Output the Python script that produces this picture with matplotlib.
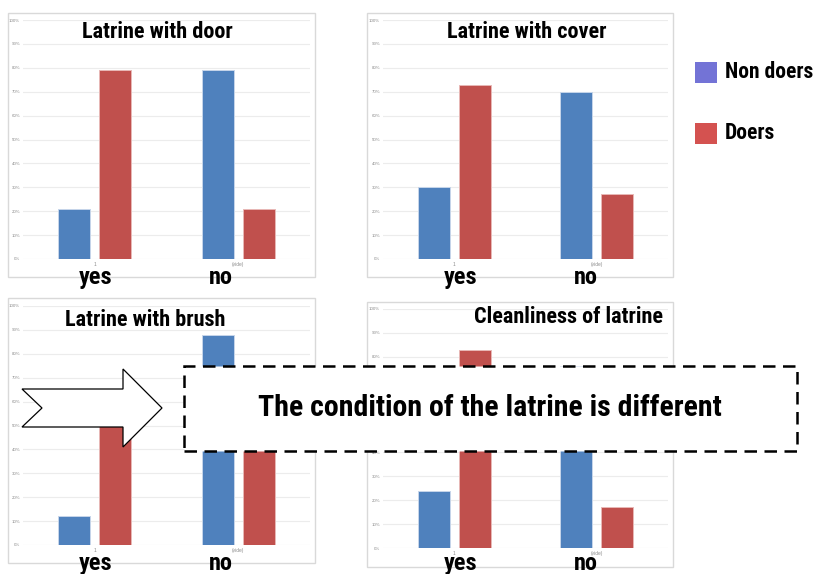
import matplotlib
matplotlib.use("Agg")
import matplotlib.pyplot as plt
import numpy as np
from matplotlib import font_manager
from matplotlib.patches import Rectangle, Polygon

# pick a narrow face that ships a bold weight, if one is installed
bold_faces = {f.name for f in font_manager.fontManager.ttflist
              if isinstance(f.weight, int) and f.weight >= 700 or f.weight == 'bold'}
narrow = [n for n in ['Liberation Sans Narrow', 'Arial Narrow', 'Roboto Condensed',
                      'Archivo Narrow', 'IBM Plex Sans Condensed', 'PT Sans Narrow',
                      'Open Sans Condensed'] if n in bold_faces]
plt.rcParams['font.family'] = narrow[:1] + ['Liberation Sans', 'DejaVu Sans']

W, H = 819, 574

# survey results, share of households (%)
titles = ['Latrine with door', 'Latrine with cover', 'Latrine with brush', 'Cleanliness of latrine']
categories = ['1', '(vide)']
answers = ['yes', 'no']
non_doers = [[21, 79], [30, 70], [12, 88], [24, 76]]
doers = [[79, 21], [73, 27], [57, 43], [83, 17]]
series_names = ['Non doers', 'Doers']

BLUE, RED = '#4f81bd', '#c0504d'

# panel layout in pixels (left, top, right, bottom)
frames = [(8, 13, 315, 277), (367, 13, 673, 277), (8, 298, 315, 563), (367, 302, 673, 567)]
plots = [(23, 20, 310, 259), (383, 20, 668, 259), (23, 306, 310, 545), (383, 309, 668, 548)]
title_pos = [(157, 38), (527, 38), (145, 326), (568, 323)]
answer_x = [(96, 221), (461, 586), (96, 221), (461, 586)]
answer_base = [284, 284, 570, 570]


def fx(x):
    return x / W


def fy(y):
    return 1 - y / H


fig = plt.figure(figsize=(W / 100, H / 100), dpi=100)

for i in range(4):
    l, t, r, b = plots[i]
    ax = fig.add_axes([fx(l), fy(b), (r - l) / W, (b - t) / H])
    ax.set_xlim(0, 2)
    ax.set_ylim(0, 1)
    x = np.arange(2) + 0.5
    ax.bar(x - 0.143, np.array(non_doers[i]) / 100, 0.223, color=BLUE,
           edgecolor='#c6d5ea', linewidth=0.7, zorder=3)
    ax.bar(x + 0.143, np.array(doers[i]) / 100, 0.223, color=RED,
           edgecolor='#e8b8b6', linewidth=0.7, zorder=3)
    ax.set_yticks(np.linspace(0, 1, 11))
    ax.set_yticklabels(['%d%%' % v for v in range(0, 101, 10)],
                       fontsize=3.2, color='#8c8c8c', family='Liberation Sans')
    ax.set_xticks(x)
    ax.set_xticklabels(categories, fontsize=3.5, color='#8c8c8c', family='Liberation Sans')
    ax.tick_params(length=0, pad=2)
    ax.grid(axis='y', color='#ececec', linewidth=0.8, zorder=0)
    for s in ax.spines.values():
        s.set_visible(False)
    ax.set_facecolor('none')

    fl, ft, fr, fb = frames[i]
    fig.patches.append(Rectangle((fx(fl), fy(fb)), (fr - fl) / W, (fb - ft) / H,
                                 transform=fig.transFigure, fill=False,
                                 edgecolor='#d9d9d9', linewidth=1, zorder=2))

    tx, ty = title_pos[i]
    fig.text(fx(tx), fy(ty), titles[i], ha='center', va='baseline',
             fontsize=16, fontweight='bold', color='black')
    for ans, ax_x in zip(answers, answer_x[i]):
        fig.text(fx(ax_x), fy(answer_base[i]), ans, ha='center', va='baseline',
                 fontsize=17.5, fontweight='bold', color='black')

# legend
legend_colors = ['#7373d6', '#d45250']
for name, c, yc in zip(series_names, legend_colors, [72, 133]):
    fig.patches.append(Rectangle((fx(695), fy(yc + 11)), 22 / W, 21 / H,
                                 transform=fig.transFigure, facecolor=c,
                                 edgecolor='none', zorder=2))
    fig.text(fx(725), fy(yc), name, ha='left', va='center',
             fontsize=15.5, fontweight='bold', color='black')

# block arrow pointing to the message
arrow_pts = [(22, 389), (123, 389), (123, 369), (162, 408), (123, 447),
             (123, 427), (22, 427), (42, 408)]
fig.patches.append(Polygon([(fx(px), fy(py)) for px, py in arrow_pts], closed=True,
                           transform=fig.transFigure, facecolor='white',
                           edgecolor='black', linewidth=0.9, zorder=4))

# dashed message box
fig.patches.append(Rectangle((fx(184), fy(451)), (797 - 184) / W, (451 - 366) / H,
                             transform=fig.transFigure, facecolor='white',
                             edgecolor='black', linewidth=1.8,
                             linestyle=(0, (5, 3)), zorder=4))
fig.text(fx(490), fy(408), 'The condition of the latrine is different',
         ha='center', va='center', fontsize=21.5, fontweight='bold',
         color='black', zorder=5)

fig.savefig('out.png', dpi=100)
